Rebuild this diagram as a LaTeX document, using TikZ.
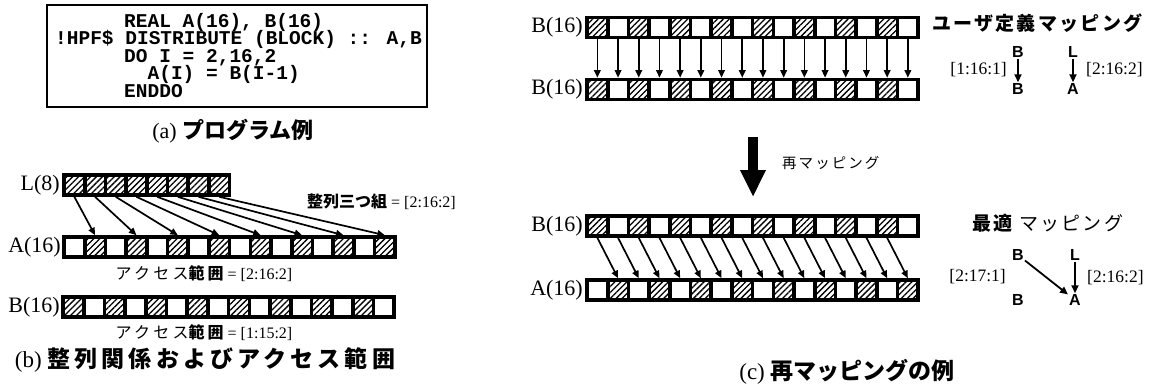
\documentclass[tikz,border=0pt]{standalone}
\usepackage{fontspec}
\setmainfont{Liberation Serif}
\newfontfamily\jp{Noto Sans CJK JP}
\newfontfamily\code{Liberation Mono}
\newfontfamily\hsans{Liberation Sans}
\usetikzlibrary{arrows.meta,patterns.meta}
\newcommand\fs[1]{\fontsize{#1}{#1}\selectfont}
\tikzset{
  cell/.style={draw=black, line width=3.6pt, fill=white, minimum width=20.7pt, minimum height=20pt, inner sep=0pt},
  hcell/.style={cell, postaction={pattern={Lines[angle=45,distance=4.2pt,line width=1.3pt]}}},
  arr/.style={line width=1.7pt, -{Triangle[length=7.5pt,width=6.5pt]}},
  marr/.style={line width=1.8pt, -{Triangle[length=8pt,width=7pt]}},
  lbl/.style={font=\fs{22}, anchor=east, inner sep=0pt},
  codeline/.style={font=\code\bfseries\fs{19.5}, anchor=base west, inner sep=0pt},
  letter/.style={font=\hsans\bfseries\fs{16}, inner sep=1pt},
  rng/.style={font=\fs{17.5}, inner sep=0pt},
  txt/.style={inner sep=0pt}
}
\newcommand\acc[1]{{\jp\fs{16}\addfontfeature{LetterSpace=20}アクセス{\bfseries 範囲}}{\fs{16} = #1}}
\newcommand\cellrow[5]{%
  \foreach \i in {1,...,#4}{%
    \pgfmathtruncatemacro\hh{#5}%
    \ifnum\hh=1
      \node[hcell] (#1\i) at ({#2+(\i-0.5)*20.7},#3) {};
    \else
      \node[cell] (#1\i) at ({#2+(\i-0.5)*20.7},#3) {};
    \fi}}
\begin{document}
\begin{tikzpicture}[x=1pt,y=-1pt]
\useasboundingbox (0,0) rectangle (1157,386);
% (a) program
\node[draw=black, line width=1.5pt, minimum width=380pt, minimum height=102pt, inner sep=0pt] (box) at (237,56) {};
\node[codeline] (c1) at (124,27) {REAL A(16), B(16)};
\node[codeline] (c2) at (55,44.5) {!HPF\$ DISTRIBUTE (BLOCK) :: A,B};
\node[codeline] (c3) at (124,62) {DO I = 2,16,2};
\node[codeline] (c4) at (147.4,79.5) {A(I) = B(I-1)};
\node[codeline] (c5) at (124,97) {ENDDO};
\node[txt, font=\fs{22}] (capa) at (233,131) {(a) {\jp\bfseries プログラム例}};
% (b)
\node[lbl] (lL) at (60,185) {L(8)};
\node[lbl] (lA) at (61,247) {A(16)};
\node[lbl] (lB) at (60,307) {B(16)};
\cellrow{L}{64}{185}{8}{1}
\cellrow{A}{64}{247}{16}{1-mod(\i,2)}
\cellrow{B}{63}{307}{16}{mod(\i,2)}
\foreach \i in {1,...,8}{%
  \pgfmathtruncatemacro\j{2*\i}%
  \draw[arr] (L\i.south) -- (A\j.north);}
\node[txt, anchor=west] (triple) at (307,202) {{\jp\bfseries\fs{16}整列三つ組}{\fs{16} = [2:16:2]}};
\node[txt] (accA) at (204,274) {\acc{[2:16:2]}};
\node[txt] (accB) at (204,333) {\acc{[1:15:2]}};
\node[txt, font=\fs{23}] (capb) at (205,360) {(b) {\jp\bfseries\addfontfeature{LetterSpace=18}整列関係およびアクセス範囲}};
% (c) top
\node[lbl] (lT) at (583,27.5) {B(16)};
\node[lbl] (lU) at (583,89.5) {B(16)};
\cellrow{T}{587}{27.5}{16}{mod(\i,2)}
\cellrow{U}{587}{89.5}{16}{mod(\i,2)}
\foreach \i in {1,...,16}{\draw[arr] (T\i.south) -- (U\i.north);}
\node[txt, anchor=west] (uhead) at (932,23) {\jp\bfseries\fs{19}\addfontfeature{LetterSpace=12}ユーザ定義マッピング};
\node[letter] (ub1) at (1018,52) {B};
\node[letter] (ul) at (1073,52) {L};
\node[letter] (ub2) at (1018,89) {B};
\node[letter] (ua) at (1073,89) {A};
\draw[marr] (ub1) -- (ub2);
\draw[marr] (ul) -- (ua);
\node[rng, anchor=east] (ur1) at (1007,70) {[1:16:1]};
\node[rng, anchor=west] (ur2) at (1086,70) {[2:16:2]};
% remap arrow
\coordinate (rtop) at (753,137);
\coordinate (rbot) at (753,197);
\draw[line width=10pt, -{Triangle[length=27pt,width=24pt]}] (rtop) -- (rbot);
\node[txt, anchor=west] (remap) at (782,163) {\jp\fs{14.5}\addfontfeature{LetterSpace=14}再マッピング};
% (c) bottom
\node[lbl] (lV) at (583,226) {B(16)};
\node[lbl] (lW) at (583,290) {A(16)};
\cellrow{V}{587}{226}{16}{mod(\i,2)}
\cellrow{W}{587}{290}{16}{1-mod(\i,2)}
\foreach \i in {1,...,15}{%
  \pgfmathtruncatemacro\j{\i+1}%
  \draw[arr] (V\i.south) -- (W\j.north);}
\node[txt, anchor=west] (ohead) at (972,223) {\jp\bfseries\fs{19}\addfontfeature{LetterSpace=12}最適 {\mdseries マッピング}};
\node[letter] (ob1) at (1018,255) {B};
\node[letter] (ol) at (1075,255) {L};
\node[letter] (ob2) at (1018,300) {B};
\node[letter] (oa) at (1075,300) {A};
\draw[marr] (ob1) -- (oa);
\draw[marr] (ol) -- (oa);
\node[rng, anchor=east] (or1) at (1006,277) {[2:17:1]};
\node[rng, anchor=west] (or2) at (1087,278) {[2:16:2]};
\node[txt, font=\fs{23}] (capc) at (847,372) {(c) {\jp\bfseries 再マッピングの例}};
\end{tikzpicture}
\end{document}
